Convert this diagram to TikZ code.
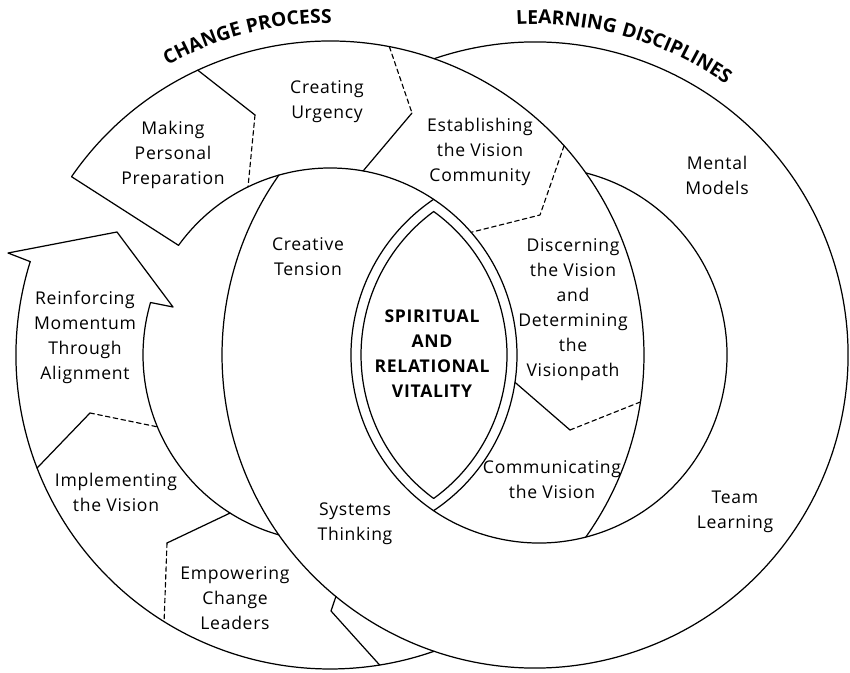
\documentclass[tikz,border=0pt]{standalone}
\usepackage{fontspec}
\setmainfont{Open Sans}[LetterSpace=4]
\usetikzlibrary{calc,decorations.text}
\tikzset{
  edge/.style={line width=0.7pt},
  dashedge/.style={line width=0.65pt, dash pattern=on 2.6pt off 1.9pt},
  lbl/.style={align=center, inner sep=0pt, font=\fontsize{10}{14.2}\selectfont},
  core/.style={lbl, font=\fontsize{10}{14.2}\selectfont\bfseries},
  title/.style={decorate, decoration={text along path, text align=center, text={#1}}}
}
\newcommand{\titlefont}{\fontsize{11}{13}\selectfont\bfseries}
\begin{document}
\begin{tikzpicture}[x=0.2mm, y=0.2mm, line cap=round, line join=round]
\useasboundingbox (0,0) rectangle (850,672);
\coordinate (oc) at (330,317);
\coordinate (lc) at (535,317);
\coordinate (cc) at (539,317);

% change process ring
\draw[edge] (oc) ++(145.4:314) arc[start angle=145.4, end angle=-35.44, radius=314];
\draw[edge] (oc) ++(162.7:314) arc[start angle=162.7, end angle=289.35, radius=314];
\draw[edge] (oc) ++(144.1:187) arc[start angle=144.1, end angle=-56.36, radius=187];
\draw[edge] (oc) ++(163.7:187) arc[start angle=163.7, end angle=254.12, radius=187];

% learning disciplines ring
\draw[edge] (lc) ++(108.82:313) arc[start angle=108.82, end angle=-215.08, radius=313];
\draw[edge] (cc) ++(75.58:188) arc[start angle=75.58, end angle=-235.9, radius=188];
\draw[edge] (cc) ++(126.29:178) arc[start angle=126.29, end angle=233.71, radius=178]
  arc[start angle=-54.16, end angle=54.16, radius=177] -- cycle;

% step borders
\coordinate (mp1) at ($(oc)+(145.4:314)$);
\coordinate (mp2) at ($(oc)+(144.1:187)$);
\draw[edge] (mp1) -- (mp2);

\coordinate (cu1) at ($(oc)+(114.9:314)$);
\coordinate (cu2) at (255,557);
\coordinate (cu3) at ($(oc)+(116:187)$);
\draw[edge] (cu1) -- (cu2);
\draw[dashedge] (cu2) -- (cu3);

\coordinate (ev1) at ($(oc)+(79.1:314)$);
\coordinate (ev2) at (412,559);
\coordinate (ev3) at ($(oc)+(79.8:187)$);
\draw[dashedge] (ev1) -- (ev2);
\draw[edge] (ev2) -- (ev3);

\coordinate (dv1) at ($(oc)+(41.8:314)$);
\coordinate (dv2) at (540,457);
\coordinate (dv3) at ($(oc)+(41:187)$);
\draw[dashedge] (dv1) -- (dv2) -- (dv3);

\coordinate (cm1) at ($(oc)+(-8.4:187)$);
\coordinate (cm2) at (570,242);
\coordinate (cm3) at ($(oc)+(-8.6:314)$);
\draw[edge] (cm1) -- (cm2);
\draw[dashedge] (cm2) -- (cm3);

\coordinate (tl1) at ($(lc)+(230.5:313)$);
\coordinate (tl2) at (331,61);
\coordinate (tl3) at ($(oc)+(-80.9:314)$);
\draw[edge] (tl1) -- (tl2) -- (tl3);

\coordinate (ip1) at ($(oc)+(237.7:187)$);
\coordinate (ip2) at (167,129);
\coordinate (ip3) at ($(oc)+(238.1:314)$);
\draw[edge] (ip1) -- (ip2);
\draw[dashedge] (ip2) -- (ip3);

\coordinate (rm1) at ($(oc)+(201.1:314)$);
\coordinate (rm2) at (90,259);
\coordinate (rm3) at ($(oc)+(202.6:187)$);
\draw[edge] (rm1) -- (rm2);
\draw[dashedge] (rm2) -- (rm3);

\coordinate (ah1) at ($(oc)+(162.7:314)$);
\coordinate (ah2) at (8,419);
\coordinate (ah3) at (117,440);
\coordinate (ah4) at (173,365);
\coordinate (ah5) at ($(oc)+(163.7:187)$);
\draw[edge] (ah1) -- (ah2) -- (ah3) -- (ah4) -- (ah5);

% titles
\path[title={|\titlefont|CHANGE PROCESS}] (oc) ++(122:332) arc[start angle=122, end angle=87, radius=332];
\path[title={|\titlefont|LEARNING DISCIPLINES}] (lc) ++(96:331) arc[start angle=96, end angle=52, radius=331];

\node[lbl] (mkp) at (173,517) {Making\\Personal\\Preparation};
\node[lbl] (cru) at (327,570) {Creating\\Urgency};
\node[lbl] (esv) at (480,520) {Establishing\\the Vision\\Community};
\node[lbl] (mmd) at (717,497) {Mental\\Models};
\node[lbl] (crt) at (308,415) {Creative\\Tension};
\node[lbl] (dsv) at (573,362) {Discerning\\the Vision\\and\\Determining\\the\\Visionpath};
\node[core] (spr) at (432,318) {SPIRITUAL\\AND\\RELATIONAL\\VITALITY};
\node[lbl] (rfm) at (85,335) {Reinforcing\\Momentum\\Through\\Alignment};
\node[lbl] (imv) at (116,180) {Implementing\\the Vision};
\node[lbl] (emc) at (235,74) {Empowering\\Change\\Leaders};
\node[lbl] (syt) at (355,148) {Systems\\Thinking};
\node[lbl] (cmv) at (552,192) {Communicating\\the Vision};
\node[lbl] (tml) at (735,160) {Team\\Learning};
\end{tikzpicture}
\end{document}
